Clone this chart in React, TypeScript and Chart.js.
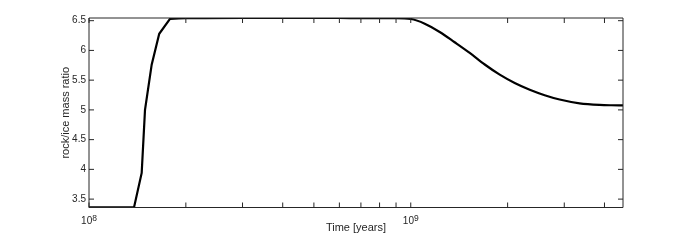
import React, { useEffect, useRef } from "react";
import { Chart, registerables } from "chart.js";

Chart.register(...registerables);

// Time [years]
const timeYears = [
  1e8, 1.2e8, 1.38e8, 1.458e8, 1.493e8, 1.566e8, 1.653e8, 1.785e8, 1.9e8, 2e8,
  3e8, 4e8, 5e8, 6e8, 7e8, 8.92e8, 1e9, 1.105e9, 1.23e9, 1.369e9, 1.525e9,
  1.698e9, 1.89e9, 2.104e9, 2.343e9, 2.607e9, 2.902e9, 3.347e9, 3.864e9, 4.2e9,
  4.567e9,
];
// rock/ice mass ratio
const massRatio = [
  3.36, 3.36, 3.36, 3.94, 5.0, 5.76, 6.28, 6.53, 6.54, 6.543,
  6.545, 6.545, 6.545, 6.545, 6.544, 6.542, 6.528, 6.45, 6.31, 6.137, 5.957,
  5.763, 5.592, 5.452, 5.339, 5.247, 5.174, 5.11, 5.083, 5.078,
  5.077,
];
// index where the smooth (plateau + decline) part of the curve begins
const smoothStart = 9;

const xMin = 1e8;
const xMax = 4.567e9;
const yMin = 3.359;
const yMax = 6.545;
const yTicks = [3.5, 4, 4.5, 5, 5.5, 6, 6.5];
const xTicks = [1e8, 2e8, 3e8, 4e8, 5e8, 6e8, 7e8, 8e8, 9e8, 1e9, 2e9, 3e9, 4e9];
const xLabelTicks = [1e8, 1e9];
const xTitle = "Time [years]";
const yTitle = "rock/ice mass ratio";

const INK = "#262626";
const FONT = "'Liberation Sans', Arial, Helvetica, sans-serif";

const matlabAxes = {
  id: "matlabAxes",
  afterDraw(chart: any) {
    const { ctx, chartArea } = chart;
    const { left, right, top, bottom } = chartArea;
    const xs = chart.scales.x;
    const ys = chart.scales.y;
    const tl = 5;
    ctx.save();
    ctx.strokeStyle = INK;
    ctx.lineWidth = 1;
    ctx.beginPath();
    ctx.rect(left, top, right - left, bottom - top);
    ctx.stroke();
    ctx.beginPath();
    for (const v of xTicks) {
      const px = xs.getPixelForValue(v);
      ctx.moveTo(px, bottom);
      ctx.lineTo(px, bottom - tl);
      ctx.moveTo(px, top);
      ctx.lineTo(px, top + tl);
    }
    for (const v of yTicks) {
      const py = ys.getPixelForValue(v);
      ctx.moveTo(left, py);
      ctx.lineTo(left + tl, py);
      ctx.moveTo(right, py);
      ctx.lineTo(right - tl, py);
    }
    ctx.stroke();

    // x tick labels: 10^n
    ctx.fillStyle = INK;
    ctx.textBaseline = "alphabetic";
    ctx.textAlign = "left";
    for (const v of xLabelTicks) {
      const px = xs.getPixelForValue(v);
      const exp = String(Math.round(Math.log10(v)));
      ctx.font = `10px ${FONT}`;
      const wb = ctx.measureText("10").width;
      ctx.font = `8.5px ${FONT}`;
      const we = ctx.measureText(exp).width;
      const x0 = px - (wb + we) / 2;
      ctx.font = `10px ${FONT}`;
      ctx.fillText("10", x0, 224);
      ctx.font = `8.5px ${FONT}`;
      ctx.fillText(exp, x0 + wb, 220.5);
    }

    // axis titles
    ctx.font = `11px ${FONT}`;
    ctx.textAlign = "center";
    ctx.fillText(xTitle, (left + right) / 2, 230.5);
    ctx.translate(68.5, (top + bottom) / 2);
    ctx.rotate(-Math.PI / 2);
    ctx.fillText(yTitle, 0, 0);
    ctx.restore();
  },
};

export default function App() {
  const ref = useRef<HTMLCanvasElement>(null);
  useEffect(() => {
    if (!ref.current) return;
    const pts = timeYears.map((t, i) => ({ x: t, y: massRatio[i] }));
    const lineStyle = {
      borderColor: "#000000",
      borderWidth: 2.2,
      pointRadius: 0,
      fill: false,
    };
    const chart = new Chart(ref.current, {
      type: "line",
      data: {
        datasets: [
          { ...lineStyle, data: pts.slice(0, smoothStart + 1), tension: 0 },
          { ...lineStyle, data: pts.slice(smoothStart), cubicInterpolationMode: "monotone" },
        ],
      },
      options: {
        responsive: false,
        animation: false,
        layout: { padding: { top: 18, right: 66, left: 0, bottom: 0 } },
        plugins: { legend: { display: false }, tooltip: { enabled: false } },
        scales: {
          x: {
            type: "logarithmic",
            min: xMin,
            max: xMax,
            ticks: { display: false },
            grid: { display: false, drawTicks: false },
            border: { display: false },
            afterFit: (s: any) => {
              s.height = 33.5;
            },
          },
          y: {
            type: "linear",
            min: yMin,
            max: yMax,
            afterBuildTicks: (s: any) => {
              s.ticks = yTicks.map((v) => ({ value: v }));
            },
            ticks: {
              padding: 3,
              color: INK,
              font: { family: FONT, size: 10 },
              callback: (v: any) => String(v),
            },
            grid: { display: false, drawTicks: false },
            border: { display: false },
            afterFit: (s: any) => {
              s.width = 89;
            },
          },
        },
      },
      plugins: [matlabAxes],
    } as any);
    return () => chart.destroy();
  }, []);
  return (
    <div style={{ position: "absolute", left: 0, top: 0, width: 689, height: 241, background: "#fff" }}>
      <canvas ref={ref} width={689} height={241} style={{ display: "block" }} />
    </div>
  );
}
